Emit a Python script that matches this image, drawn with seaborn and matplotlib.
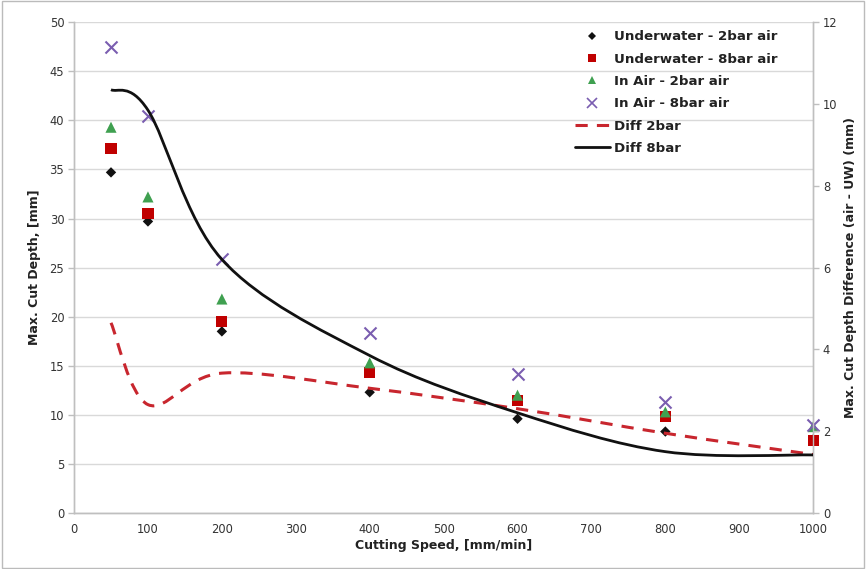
import numpy as np
import pandas as pd
import matplotlib
matplotlib.use("Agg")
import matplotlib.pyplot as plt
from matplotlib.path import Path
from matplotlib.patches import PathPatch, Rectangle
from matplotlib.lines import Line2D
import seaborn as sns

speed = [50, 100, 200, 400, 600, 800, 1000]
uw_2bar = [34.7, 29.7, 18.5, 12.3, 9.6, 8.3, 7.5]
uw_8bar = [37.1, 30.5, 19.5, 14.3, 11.5, 9.8, 7.4]
air_2bar = [39.3, 32.2, 21.8, 15.3, 12.0, 10.3, 8.8]
air_8bar = [47.5, 40.4, 25.9, 18.3, 14.2, 11.3, 9.0]
diff_2bar = [4.65, 2.65, 3.42, 3.05, 2.55, 1.95, 1.43]
diff_8bar = [10.35, 9.85, 6.2, 3.85, 2.45, 1.5, 1.42]

sns.set_theme(style="white")
plt.rcParams['font.family'] = ['DejaVu Sans']

fig = plt.figure(figsize=(8.66, 5.69), dpi=100)
ax = fig.add_axes([0.0855, 0.0984, 0.8535, 0.8626])
ax2 = ax.twinx()

grey = "#BFBFBF"
ax.set_xlim(0, 1000)
ax.set_ylim(0, 50)
ax2.set_ylim(0, 12)
ax.set_xticks(range(0, 1001, 100))
ax.set_yticks(range(0, 51, 5))
ax2.set_yticks(range(0, 13, 2))
ax.yaxis.grid(True, color="#D9D9D9", lw=1)
ax.set_axisbelow(True)
for a in (ax, ax2):
    for s in a.spines.values():
        s.set_color(grey)
        s.set_linewidth(1)
    a.spines['top'].set_visible(False)
    a.tick_params(axis='both', which='both', direction='out', length=4,
                  width=1, color=grey, labelsize=8.3, labelcolor="#333333", pad=3)

ms = [("Underwater - 2bar air", uw_2bar, "D", "#111111", 28),
      ("Underwater - 8bar air", uw_8bar, "s", "#C00000", 64),
      ("In Air - 2bar air", air_2bar, "^", "#3FA050", 64),
      ("In Air - 8bar air", air_8bar, "x", "#7A5DB0", 75)]
handles = []
for lab, vals, mk, col, sz in ms:
    df = pd.DataFrame({"speed": speed, "val": vals})
    sns.scatterplot(data=df, x="speed", y="val", ax=ax, marker=mk, color=col,
                    s=sz, linewidth=1.5 if mk == "x" else 0,
                    edgecolor=col if mk == "x" else "none",
                    legend=False, zorder=3, clip_on=False)
    handles.append(Line2D([], [], ls="none", marker=mk, color=col,
                          markersize=np.sqrt(sz) * 0.75, mew=1.2 if mk == "x" else 0,
                          label=lab))


def smooth_path(xs, ys):
    P = np.column_stack([xs, ys]).astype(float)
    n = len(P)
    verts = [P[0]]
    codes = [Path.MOVETO]
    for i in range(n - 1):
        p0 = P[i - 1] if i > 0 else P[i]
        p1 = P[i]
        p2 = P[i + 1]
        p3 = P[i + 2] if i + 2 < n else P[i + 1]
        c1 = p1 + (p2 - p0) / 6.0
        c2 = p2 - (p3 - p1) / 6.0
        verts += [c1, c2, p2]
        codes += [Path.CURVE4] * 3
    return Path(verts, codes)


ax2.add_patch(PathPatch(smooth_path(speed, diff_2bar), fill=False, edgecolor="#C8262E",
                        lw=2.2, ls=(0, (4, 3)), zorder=4))
ax2.add_patch(PathPatch(smooth_path(speed, diff_8bar), fill=False, edgecolor="#111111",
                        lw=2.0, zorder=4))
handles.append(Line2D([], [], color="#C8262E", lw=2.2, ls=(0, (4, 3)), label="Diff 2bar"))
handles.append(Line2D([], [], color="#111111", lw=2.0, label="Diff 8bar"))

ax.set_xlabel("Cutting Speed, [mm/min]", fontsize=9, fontweight="bold", labelpad=2,
              color="#222222")
ax.set_ylabel("Max. Cut Depth, [mm]", fontsize=9, fontweight="bold", labelpad=6,
              color="#222222")
ax2.set_ylabel("Max. Cut Depth Difference (air - UW) (mm)", fontsize=9,
               fontweight="bold", labelpad=5, color="#222222")

leg = ax2.legend(handles=handles, loc="upper left", bbox_to_anchor=(0.667, 1.0),
                 frameon=False, prop={"weight": "bold", "size": 9.6},
                 handlelength=2.6, handletextpad=0.3, labelspacing=0.7,
                 borderaxespad=0.2)
for t in leg.get_texts():
    t.set_color("#222222")

fig.patches.append(Rectangle((0.002, 0.002), 0.996, 0.996, transform=fig.transFigure,
                             fill=False, edgecolor="#BBBBBB", lw=1))

fig.savefig("out.png", dpi=100)
